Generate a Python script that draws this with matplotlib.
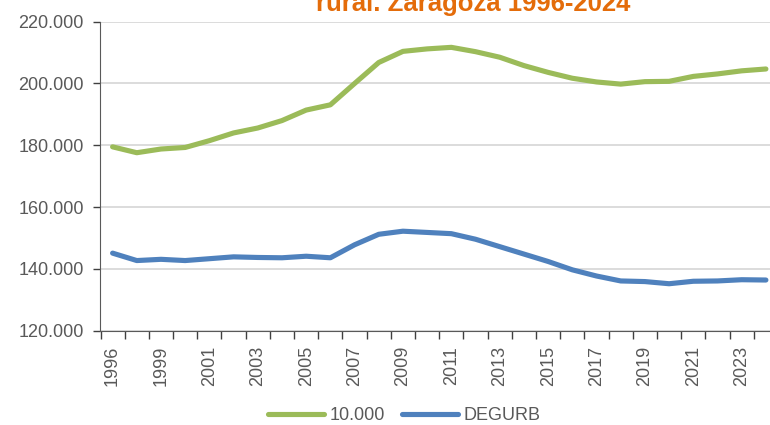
import matplotlib
matplotlib.use('Agg')
import matplotlib.pyplot as plt
from matplotlib.ticker import FuncFormatter

# years available (no 1997 padron)
years = [1996] + list(range(1998, 2025))
pop_10000 = [179.5, 177.6, 178.8, 179.3, 181.5, 184.0, 185.6, 188.0, 191.4, 193.1,
             200.0, 206.8, 210.4, 211.2, 211.7, 210.3, 208.5, 205.8, 203.6, 201.7,
             200.5, 199.8, 200.6, 200.7, 202.3, 203.1, 204.1, 204.7]
pop_degurb = [145.1, 142.7, 143.1, 142.7, 143.3, 143.9, 143.7, 143.6, 144.1, 143.6,
              147.8, 151.2, 152.2, 151.8, 151.4, 149.6, 147.2, 144.8, 142.4, 139.7,
              137.7, 136.1, 135.9, 135.2, 136.0, 136.1, 136.5, 136.4]
labels = ['10.000', 'DEGURB']
colors = ['#9BBB59', '#4F81BD']

plt.rcParams['font.family'] = ['Liberation Sans', 'DejaVu Sans']
text_color = '#595959'

fig = plt.figure(figsize=(7.7, 4.25), dpi=100)
ax = fig.add_axes([100.5 / 770, 1 - 330.7 / 425, (778 - 100.5) / 770, (330.7 - 21.7) / 425])

x = list(range(len(years)))
for vals, lab, col in zip([pop_10000, pop_degurb], labels, colors):
    ax.plot(x, [v * 1000 for v in vals], color=col, lw=3.7, label=lab,
            solid_capstyle='round', solid_joinstyle='round')

ax.set_xlim(-0.5, len(years) - 0.5)
ax.set_ylim(120000, 220000)
ax.set_yticks(range(120000, 220001, 20000))
ax.yaxis.set_major_formatter(FuncFormatter(lambda v, p: f'{v / 1000:.3f}'))
ax.grid(True, axis='y', color='#D9D9D9', lw=1.3)
ax.set_axisbelow(True)

# ticks between categories, labels on every other category
ax.set_xticks([i + 0.5 for i in range(-1, len(years))], minor=False)
ax.set_xticklabels([])
ax.set_xticks(x[::2], minor=True)
ax.set_xticklabels([str(y) for y in years[::2]], minor=True, rotation=90)
ax.tick_params(axis='x', which='major', length=6, color='#404040', width=1)
ax.tick_params(axis='x', which='minor', length=0, labelsize=13, labelcolor=text_color, pad=11)
ax.tick_params(axis='y', length=5, color='#404040', width=1, labelsize=13,
               labelcolor=text_color, pad=7)

for s in ['top', 'right']:
    ax.spines[s].set_visible(False)
ax.spines['left'].set_color('#595959')
ax.spines['bottom'].set_color('#595959')

# title sits partly above the figure, as in the reference
fig.text(473 / 770, 1 - 11 / 425, 'rural. Zaragoza 1996-2024', color='#E46C0A',
         fontsize=18.5, fontweight='bold', ha='center', va='baseline')

fig.legend(loc='center', bbox_to_anchor=(404 / 770, 1 - 416 / 425), ncol=2, frameon=False,
           fontsize=13, handlelength=3.1, columnspacing=0.95, handletextpad=0.3,
           labelcolor=text_color)

plt.savefig('out.png', dpi=100)
plt.close()
